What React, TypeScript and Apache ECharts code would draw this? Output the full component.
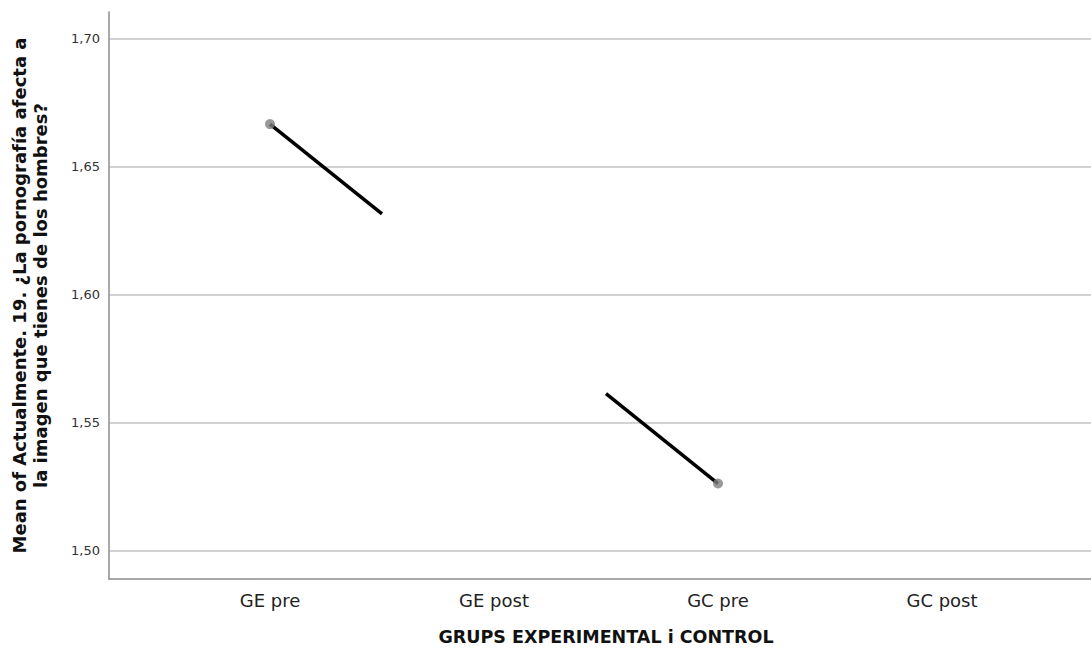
import React, { useEffect, useRef } from "react";
import * as echarts from "echarts";

const categories = ["GE pre", "GE post", "GC pre", "GC post"];
const means: (number | null)[] = [1.6667, null, 1.5263, null];
const yMin = 1.489;
const yMax = 1.7105;
const xTitle = "GRUPS EXPERIMENTAL i CONTROL";
const yTitle = "Mean of Actualmente. 19. ¿La pornografía afecta a\nla imagen que tienes de los hombres?";

function buildSegments(vals: (number | null)[]) {
  const segs: number[][] = [];
  let prev = -1;
  vals.forEach((v, i) => {
    if (v == null) return;
    if (prev >= 0) segs.push([prev, vals[prev] as number, i, v]);
    prev = i;
  });
  return segs;
}

export default function App() {
  const ref = useRef<HTMLDivElement>(null);
  useEffect(() => {
    if (!ref.current) return;
    const chart = echarts.init(ref.current, null, { renderer: "svg" });
    const font = "'DejaVu Sans', 'Open Sans', sans-serif";
    const segments = buildSegments(means);
    chart.setOption({
      animation: false,
      backgroundColor: "#ffffff",
      textStyle: { fontFamily: font },
      grid: [
        { left: 158, right: 37, top: 12, bottom: 72 },
        { left: 109, right: 0, top: 12, bottom: 72 },
      ],
      xAxis: [
        {
          type: "category",
          gridIndex: 0,
          data: categories,
          boundaryGap: true,
          axisLine: { show: false },
          axisTick: { show: false },
          axisLabel: { fontSize: 18, color: "#222", margin: 12, fontFamily: font },
          name: xTitle,
          nameLocation: "middle",
          nameGap: 49,
          nameTextStyle: { fontSize: 17.5, fontWeight: "bold", color: "#111", fontFamily: font },
        },
        {
          type: "value",
          gridIndex: 1,
          min: 0,
          max: 1,
          axisLine: { show: true, lineStyle: { color: "#8c8c8c", width: 1.5 } },
          axisTick: { show: false },
          axisLabel: { show: false },
          splitLine: { show: false },
        },
      ],
      yAxis: [
        {
          type: "value",
          gridIndex: 0,
          min: yMin,
          max: yMax,
          show: false,
          splitLine: { show: false },
        },
        {
          type: "value",
          gridIndex: 1,
          min: yMin,
          max: yMax,
          axisLine: { show: true, lineStyle: { color: "#8c8c8c", width: 1.5 } },
          axisTick: { show: false },
          axisLabel: {
            fontSize: 13,
            color: "#333",
            margin: 9,
            showMinLabel: false,
            showMaxLabel: false,
            fontFamily: font,
            formatter: (v: number) => v.toFixed(2).replace(".", ","),
          },
          splitLine: {
            show: true,
            showMinLine: false,
            showMaxLine: false,
            lineStyle: { color: "#c4c4c4", width: 1.5 },
          },
          name: yTitle,
          nameLocation: "middle",
          nameRotate: 90,
          nameGap: 58,
          nameTextStyle: {
            fontSize: 18,
            fontWeight: "bold",
            color: "#111",
            lineHeight: 21,
            align: "center",
            fontFamily: font,
          },
        },
      ],
      series: [
        {
          type: "custom",
          xAxisIndex: 0,
          yAxisIndex: 0,
          data: segments,
          encode: { x: [0, 2], y: [1, 3] },
          z: 2,
          renderItem: (params: any, api: any) => {
            const x0 = api.value(0);
            const y0 = api.value(1);
            const x1 = api.value(2);
            const y1 = api.value(3);
            const p0 = api.coord([x0, y0]);
            const p1 = api.coord([x1, y1]);
            const f = 0.5 / (x1 - x0);
            const style = { stroke: "#000", lineWidth: 3.5, lineCap: "butt" };
            if (f >= 0.5) {
              return { type: "line", shape: { x1: p0[0], y1: p0[1], x2: p1[0], y2: p1[1] }, style };
            }
            const dx = p1[0] - p0[0];
            const dy = p1[1] - p0[1];
            return {
              type: "group",
              children: [
                { type: "line", shape: { x1: p0[0], y1: p0[1], x2: p0[0] + dx * f, y2: p0[1] + dy * f }, style },
                { type: "line", shape: { x1: p1[0] - dx * f, y1: p1[1] - dy * f, x2: p1[0], y2: p1[1] }, style },
              ],
            };
          },
        },
        {
          type: "scatter",
          xAxisIndex: 0,
          yAxisIndex: 0,
          data: means.map((v) => (v == null ? "-" : v)),
          symbol: "circle",
          symbolSize: 10,
          itemStyle: { color: "#7f7f7f" },
          z: 3,
        },
      ],
    });
    return () => chart.dispose();
  }, []);
  return (
    <div
      ref={ref}
      style={{ position: "absolute", left: 0, top: 0, width: 1091, height: 651 }}
    />
  );
}
